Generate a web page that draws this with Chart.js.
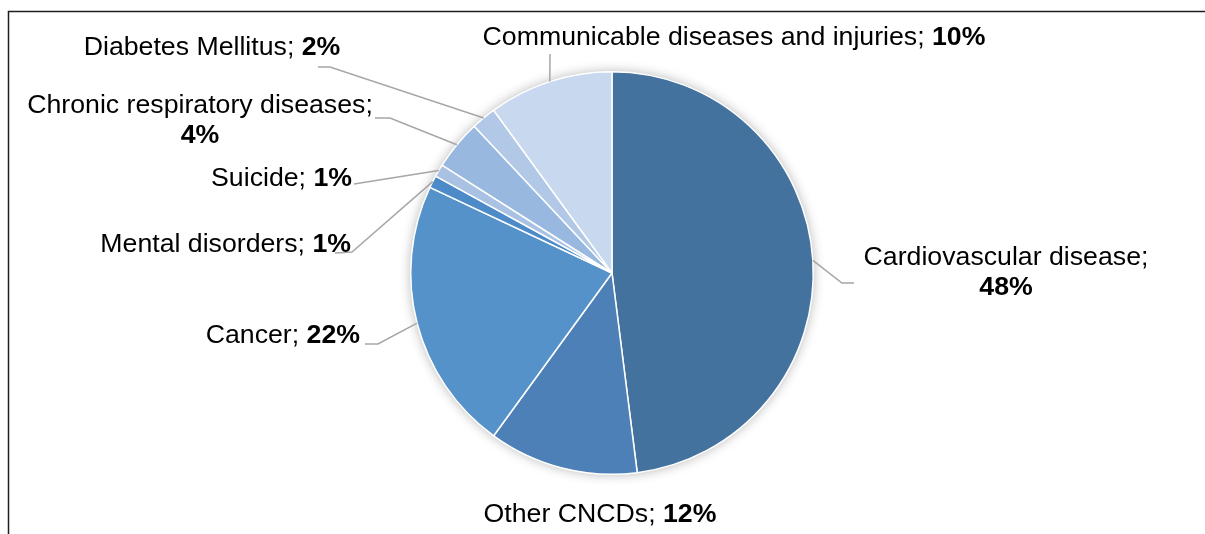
<!DOCTYPE html>
<html>
<head>
<meta charset="utf-8">
<script src="https://cdn.jsdelivr.net/npm/chart.js@4/dist/chart.umd.min.js"></script>
<style>
  html, body { margin: 0; padding: 0; background: #fff; }
  #wrap { width: 1205px; height: 534px; position: relative; }
</style>
</head>
<body>
<div id="wrap"><canvas id="c" width="1205" height="534"></canvas></div>
<script>
// Causes of death, share of total (%)
const categories = [
  'Cardiovascular disease',
  'Other CNCDs',
  'Cancer',
  'Mental disorders',
  'Suicide',
  'Chronic respiratory diseases',
  'Diabetes Mellitus',
  'Communicable diseases and injuries'
];
const shares = [48, 12, 22, 1, 1, 4, 2, 10];
const sliceColors = [
  '#44729E', '#4C80B6', '#5692CA', '#4C8AC8',
  '#A9C2E3', '#98B8DF', '#B1C9E7', '#C8D8EE'
];

// Label placement: anchor x, first baseline, text alignment, whether the
// value goes on its own line, and the leader line's outer points
const labelLayout = [
  { x: 1006, y: 265, align: 'center', split: true,  leader: [[854, 283], [842, 283]] },
  { x: 600,  y: 522, align: 'center', split: false, leader: null },
  { x: 360,  y: 343, align: 'right',  split: false, leader: [[365, 344], [378, 344]] },
  { x: 351,  y: 252, align: 'right',  split: false, leader: [[335, 253], [352, 252]] },
  { x: 352,  y: 186, align: 'right',  split: false, leader: [[354, 184]] },
  { x: 200,  y: 113, align: 'center', split: true,  leader: [[375, 118], [390, 118]] },
  { x: 212,  y: 55,  align: 'center', split: false, leader: [[318, 67], [330, 67]] },
  { x: 734,  y: 45,  align: 'center', split: false, leader: [[550, 54]] }
];

const FONT_SIZE = 26.7;
const LINE_GAP = 30;
const FONT_FAMILY = '"Liberation Sans", Arial, sans-serif';

function drawRuns(ctx, runs, x, y, align) {
  let total = 0;
  runs.forEach(r => {
    ctx.font = (r.bold ? 'bold ' : '') + FONT_SIZE + 'px ' + FONT_FAMILY;
    r.w = ctx.measureText(r.text).width;
    total += r.w;
  });
  let cx = align === 'center' ? x - total / 2 : align === 'right' ? x - total : x;
  runs.forEach(r => {
    ctx.font = (r.bold ? 'bold ' : '') + FONT_SIZE + 'px ' + FONT_FAMILY;
    ctx.fillText(r.text, cx, y);
    cx += r.w;
  });
}

const pieShadow = {
  id: 'pieShadow',
  beforeDatasetsDraw(chart) {
    const arc = chart.getDatasetMeta(0).data[0];
    if (!arc) return;
    const ctx = chart.ctx;
    ctx.save();
    ctx.shadowColor = 'rgba(0,0,0,0.30)';
    ctx.shadowBlur = 12;
    ctx.beginPath();
    ctx.arc(arc.x, arc.y, arc.outerRadius, 0, Math.PI * 2);
    ctx.fillStyle = '#ffffff';
    ctx.fill();
    ctx.restore();
  }
};

const calloutLabels = {
  id: 'calloutLabels',
  afterDatasetsDraw(chart) {
    const ctx = chart.ctx;
    const meta = chart.getDatasetMeta(0);
    ctx.save();
    // leader lines from each slice's outer edge midpoint
    ctx.strokeStyle = '#A6A6A6';
    ctx.lineWidth = 1.5;
    meta.data.forEach((arc, i) => {
      const lay = labelLayout[i];
      if (!lay.leader) return;
      const mid = (arc.startAngle + arc.endAngle) / 2;
      const ex = arc.x + Math.cos(mid) * arc.outerRadius;
      const ey = arc.y + Math.sin(mid) * arc.outerRadius;
      ctx.beginPath();
      ctx.moveTo(lay.leader[0][0], lay.leader[0][1]);
      for (let k = 1; k < lay.leader.length; k++) ctx.lineTo(lay.leader[k][0], lay.leader[k][1]);
      ctx.lineTo(ex, ey);
      ctx.stroke();
    });
    // label text: category in regular weight, value in bold
    ctx.fillStyle = '#000000';
    ctx.textBaseline = 'alphabetic';
    ctx.textAlign = 'left';
    categories.forEach((name, i) => {
      const lay = labelLayout[i];
      const pct = shares[i] + '%';
      if (lay.split) {
        drawRuns(ctx, [{ text: name + ';', bold: false }], lay.x, lay.y, lay.align);
        drawRuns(ctx, [{ text: pct, bold: true }], lay.x, lay.y + LINE_GAP, lay.align);
      } else {
        drawRuns(ctx, [{ text: name + '; ', bold: false }, { text: pct, bold: true }], lay.x, lay.y, lay.align);
      }
    });
    ctx.restore();
  }
};

const frame = {
  id: 'frame',
  afterDraw(chart) {
    const ctx = chart.ctx;
    ctx.save();
    ctx.strokeStyle = '#1E1E1E';
    ctx.lineWidth = 1.5;
    ctx.beginPath();
    ctx.moveTo(1205, 11.5);
    ctx.lineTo(8.5, 11.5);
    ctx.lineTo(8.5, 534);
    ctx.stroke();
    ctx.restore();
  }
};

new Chart(document.getElementById('c'), {
  type: 'pie',
  data: {
    labels: categories,
    datasets: [{
      data: shares,
      backgroundColor: sliceColors,
      borderColor: '#ffffff',
      borderWidth: 1.5,
      hoverBorderWidth: 1.5,
      hoverOffset: 0
    }]
  },
  options: {
    responsive: false,
    animation: false,
    layout: { padding: { left: 19, right: 0, top: 71, bottom: 59 } },
    plugins: {
      legend: { display: false },
      tooltip: { enabled: false }
    }
  },
  plugins: [pieShadow, calloutLabels, frame]
});
</script>
</body>
</html>
